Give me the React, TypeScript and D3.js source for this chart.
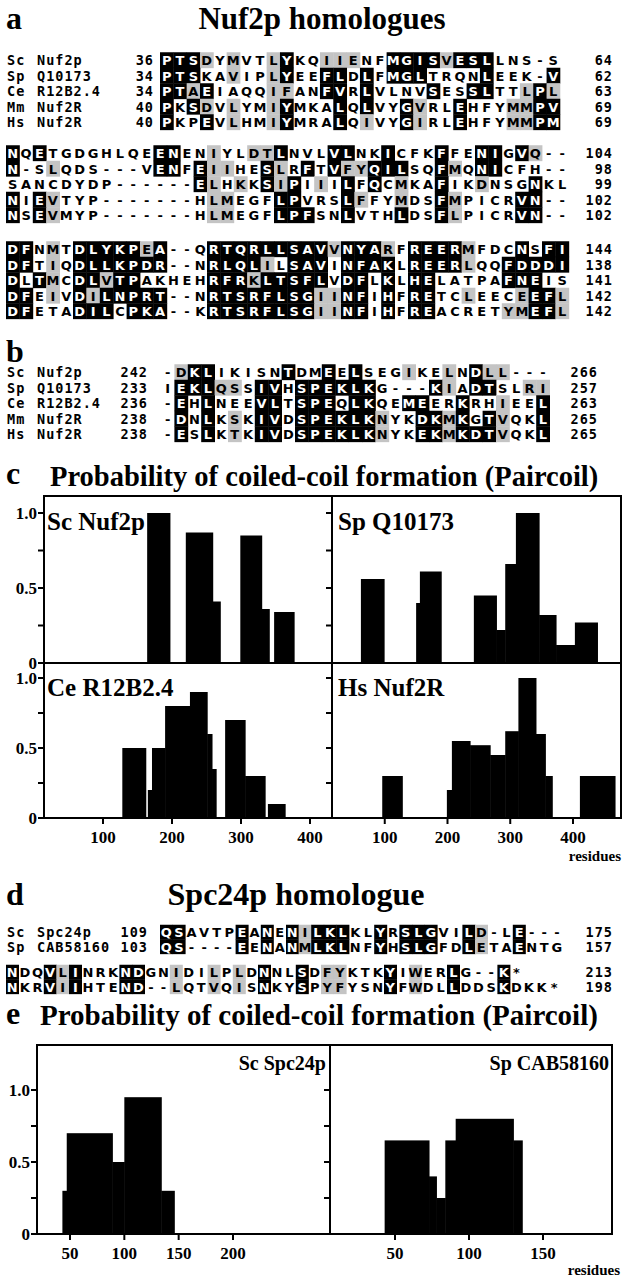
import React from 'react';
import * as d3 from 'd3';

const SERIF = '"Liberation Serif", "Times New Roman", serif';
const SANS = '"DejaVu Sans", Arial, sans-serif';
const MONO = '"DejaVu Sans Mono", monospace';
const GRAY = '#c4c4c4';

// ---- a: Nuf2p homologues alignment ----
const nufSpecies = [['Sc', 'Nuf2p'], ['Sp', 'Q10173'], ['Ce', 'R12B2.4'], ['Mm', 'Nuf2R'], ['Hs', 'Nuf2R']];
const nufStart1 = [36, 34, 34, 40, 40];
const nufEnd1 = [64, 62, 63, 69, 69];
const nufSeq1 = [
  'PTSDYMVTLYKQIIENFMGISVESLLNS-S',
  'PTSKAVIPLYEEFLDLFMGLTRQNLEEK-V',
  'PTAEIAQQIFANFVRLVLNVSESSLTTLPL',
  'PKSDVLYMIYMKALQLVYGVRLEHFYMMPV',
  'PKPEVLHMIYMRALQIVYGIRLEHFYMMPM',
];
const nufBlack1 = [
  [0, 1, 2, 9, 17, 18, 19, 20, 22, 23, 24],
  [0, 1, 2, 9, 12, 13, 15, 17, 18, 19, 24, 29],
  [0, 1, 3, 12, 13, 15, 20, 23, 24, 28],
  [0, 2, 9, 13, 15, 18, 22, 28, 29],
  [0, 3, 9, 13, 18, 22, 28, 29],
];
const nufGray1 = [
  [3, 5, 8, 12, 13, 14, 21],
  [5, 8],
  [2, 8, 9, 27, 29],
  [3, 5, 8, 19, 26, 27],
  [5, 8, 15, 19, 26, 27],
];

const nufEnd2 = [104, 98, 99, 102, 102];
const nufSeq2 = [
  'NQETGDGHLQEENENIYLDTLNVLVLNKICFKFFENIGVQ--',
  'N-SLQDS---VENFEIIHESLRFTVFYQILSQFMQNICFH--',
  'SANCDYDP------ELHKKSIPIIILFQCMKAFIKDNSGNKL',
  'NIEVTYP-------HLMEGFLPVRSLFFYMDSFMPICRVN--',
  'NSEVMYP-------HLMEGFLPFSNLVTHLDSFLPICRVN--',
];
const nufBlack2 = [
  [0, 2, 11, 12, 20, 24, 25, 28, 32, 35, 36, 38],
  [0, 11, 12, 14, 19, 22, 24, 27, 28, 29, 32, 35, 36],
  [14, 19, 21, 25, 27, 32, 39],
  [0, 2, 20, 21, 25, 32, 38, 39],
  [0, 2, 20, 21, 22, 25, 29, 32, 38, 39],
];
const nufGray2 = [
  [15, 18, 19, 39],
  [3, 15, 16, 20, 25, 26, 33],
  [15, 17, 20, 23, 29, 35],
  [3, 15, 16, 26, 29, 33],
  [3, 15, 16, 33],
];

const nufEnd3 = [144, 138, 141, 142, 142];
const nufSeq3 = [
  'DFNMTDLYKPEA--QRTQRLLSAVVNYARFREERMFDCNSFI',
  'DFTIQDLLKPDR--NRLQLILSAVINFAKLREERLQQFDDDI',
  'DLTMCDLVTPAKHEHRFRKLTSFLVDFLKLHELATPAFNEIS',
  'DFEIVDILNPRT--NRTSRFLSGIINFIHFRETCLEECEEFL',
  'DFETADILCPKA--KRTSRFLSGIINFIHFREACRETYMEFL',
];
const nufBlack3 = [
  [0, 1, 5, 6, 7, 8, 9, 11, 15, 16, 17, 18, 19, 20, 21, 22, 23, 25, 26, 27, 30, 31, 32, 33, 38, 40, 41],
  [0, 1, 5, 6, 7, 8, 9, 10, 11, 15, 16, 17, 18, 21, 22, 23, 25, 26, 27, 28, 30, 31, 32, 33, 37, 38, 39, 40, 41],
  [0, 2, 5, 6, 8, 9, 15, 16, 17, 19, 20, 21, 22, 23, 25, 26, 28, 30, 31, 37, 38, 39],
  [0, 1, 5, 7, 8, 9, 10, 11, 15, 16, 17, 18, 19, 20, 21, 22, 25, 26, 28, 30, 31, 39, 40],
  [0, 1, 5, 6, 7, 9, 10, 11, 15, 16, 17, 18, 19, 20, 21, 22, 25, 26, 28, 30, 31, 39, 40],
];
const nufGray3 = [
  [3, 10, 24, 28, 34],
  [3, 19, 34],
  [3, 7, 18],
  [3, 6, 23, 24, 34, 38, 41],
  [23, 24, 37, 38, 41],
];

// ---- b ----
const nufStartB = [242, 233, 236, 238, 238];
const nufEndB = [266, 257, 263, 265, 265];
const nufSeqB = [
  '-DKLIKISNTDMEELSEGIKELNDLL---',
  'IEKLQSSIVHSPEKLKG---KIADTSLRI',
  '-EHLNEEVLTSPEQLKQEMEERKRHIEEL',
  '-DNLKSKIVDSPEKLKNYKDKMKGTVQKL',
  '-ESLKTKIVDSPEKLKNYKEKMKDTVQKL',
];
const nufBlackB = [
  [2, 3, 9, 12, 14, 23],
  [1, 2, 3, 7, 8, 10, 11, 12, 13, 14, 15, 20, 23, 24],
  [1, 3, 7, 8, 10, 11, 12, 14, 15, 18, 19, 22, 28],
  [1, 3, 7, 8, 10, 11, 12, 13, 14, 15, 19, 20, 22, 24, 28],
  [1, 3, 7, 8, 10, 11, 12, 13, 14, 15, 19, 20, 22, 23, 24, 28],
];
const nufGrayB = [
  [1, 18, 21, 24, 25],
  [4, 5, 21, 27, 28],
  [25],
  [5, 16, 21, 25],
  [5, 16, 21, 25],
];

// ---- d: Spc24p homologue ----
const spcSpecies = [['Sc', 'Spc24p'], ['Sp', 'CAB58160']];
const spcStart = [109, 103];
const spcEnd1 = [175, 157];
const spcSeq1 = ['QSAVTPEANENILKLKLYRSLGVILD-LE---', 'QS----EENANMLKLNFYHSLGFDLETAENTG'];
const spcBlack1 = [
  [0, 1, 6, 8, 10, 12, 13, 14, 17, 19, 20, 21, 24, 28],
  [0, 1, 6, 8, 10, 12, 13, 14, 17, 19, 20, 21, 24, 28],
];
const spcGray1 = [[11, 25], [11, 25]];
const spcEnd2 = [213, 198];
const spcSeq2 = ['NDQVLINRKNDGNIDILPLDNNLSDFYKTKYIWERLG--K*', 'NKRVIIHTEND--LQTVQISNKYSPYFYSNYFWDLLDDSKDKK*'];
const spcBlack2 = [
  [0, 3, 5, 9, 10, 20, 23, 30, 35, 39],
  [0, 3, 5, 9, 10, 20, 23, 30, 35, 39],
];
const spcGray2 = [
  [4, 13, 16, 18, 25, 26, 32],
  [4, 13, 16, 18, 25, 26, 32],
];

// ---- c: Paircoil profiles, [start residue, end residue, probability] ----
const probTicks = [0, 0.5, 1];
const probMinor = [0.25, 0.75];
const nufResTicks = [100, 200, 300, 400];
const scNuf2pBars = [[164, 197, 1.0], [220, 259, 0.87], [259, 270, 0.41], [299, 330, 0.85], [330, 341, 0.36], [348, 377, 0.34]];
const spQ10173Bars = [[62, 99, 0.56], [150, 156, 0.4], [156, 190, 0.61], [242, 278, 0.45], [278, 292, 0.22], [292, 309, 0.66], [309, 346, 1.0], [346, 373, 0.32], [373, 403, 0.12], [403, 439, 0.27]];
const ceR12B24Bars = [[128, 162, 0.5], [165, 171, 0.2], [171, 190, 0.5], [190, 226, 0.8], [226, 251, 0.9], [251, 258, 0.6], [258, 264, 0.35], [277, 306, 0.7], [306, 335, 0.3], [339, 364, 0.1]];
const hsNuf2RBars = [[96, 128, 0.3], [199, 207, 0.2], [207, 236, 0.55], [236, 268, 0.52], [268, 292, 0.45], [292, 313, 0.62], [313, 341, 1.0], [341, 356, 0.6], [356, 367, 0.3], [411, 467, 0.3]];

// ---- e ----
const spcResTicksLeft = [50, 100, 150, 200];
const spcResTicksRight = [50, 100, 150];
const scSpc24pBars = [[43, 47, 0.3], [47, 89, 0.7], [89, 100, 0.5], [100, 134, 0.95], [134, 146, 0.3]];
const spCAB58160Bars = [[43, 73, 0.65], [73, 78, 0.4], [78, 84, 0.25], [84, 91, 0.65], [91, 130, 0.8], [130, 136, 0.65]];

function SeqBlock({ seqs, blacks, grays, x0, pitch, y0, dy, names, starts, startX, ends, endX }: any) {
  const col = d3.scaleLinear().domain([0, 1]).range([x0, x0 + pitch]);
  const row = d3.scaleLinear().domain([0, 1]).range([y0, y0 + dy]);
  return (
    <g>
      {seqs.map((s: string, i: number) => {
        const cy = row(i);
        return (
          <g key={i}>
            {names && (
              <g fontFamily={MONO} fontWeight="bold" fontSize={13.5} letterSpacing={1}>
                <text x={7} y={cy + 5}>{names[i][0]}</text>
                <text x={37} y={cy + 5}>{names[i][1]}</text>
              </g>
            )}
            {starts && (
              <text x={startX} y={cy + 5} textAnchor="end" fontFamily={MONO} fontWeight="bold" fontSize={13.5} letterSpacing={1}>
                {starts[i]}
              </text>
            )}
            {s.split('').map((ch, j) => {
              const kind = blacks[i].includes(j) ? 'b' : grays[i].includes(j) ? 'g' : '';
              return (
                <g key={j}>
                  {kind && (
                    <rect x={col(j)} y={cy - dy / 2} width={pitch + 0.4} height={dy + 0.4} fill={kind === 'b' ? '#000' : GRAY} />
                  )}
                  <text x={col(j) + pitch / 2} y={cy + 5} textAnchor="middle" fontFamily={SANS} fontWeight="bold" fontSize={13}
                    fill={kind === 'b' ? '#fff' : '#000'}>{ch}</text>
                </g>
              );
            })}
            <text x={endX} y={cy + 5} textAnchor="end" fontFamily={MONO} fontWeight="bold" fontSize={13.5} letterSpacing={1}>
              {ends[i]}
            </text>
          </g>
        );
      })}
    </g>
  );
}

function Bars({ data, xs, ys }: any) {
  return (
    <g>
      {data.map((b: number[], i: number) => (
        <rect key={i} x={xs(b[0])} y={ys(b[2])} width={xs(b[1]) - xs(b[0]) + 0.5} height={ys(0) - ys(b[2])} fill="#000" />
      ))}
    </g>
  );
}

function YAxis({ ys, x, labels }: any) {
  return (
    <g>
      {[...probTicks, ...probMinor].map((t) => (
        <line key={t} x1={x - 6} x2={x} y1={ys(t)} y2={ys(t)} stroke="#000" strokeWidth={2} />
      ))}
      {labels &&
        probTicks.map((t) => (
          <text key={t} x={x - 7} y={ys(t) + 6} textAnchor="end" fontFamily={SERIF} fontWeight="bold" fontSize={17}>
            {t === 0 ? '0' : t.toFixed(1)}
          </text>
        ))}
    </g>
  );
}

function XAxis({ xs, ticks, y }: any) {
  return (
    <g>
      {ticks.map((t: number) => (
        <g key={t}>
          <line x1={xs(t)} x2={xs(t)} y1={y} y2={y + 6} stroke="#000" strokeWidth={2} />
          <text x={xs(t)} y={y + 25} textAnchor="middle" fontFamily={SERIF} fontWeight="bold" fontSize={17}>{t}</text>
        </g>
      ))}
    </g>
  );
}

function PanelLabel({ x, y, text, size = 25, anchor = 'start' }: any) {
  return <text x={x} y={y} textAnchor={anchor} fontFamily={SERIF} fontWeight="bold" fontSize={size}>{text}</text>;
}

export default function App() {
  // chart c geometry
  const cL = 44, cM = 332, cR = 621, cTop = 496, cMid = 663, cBot = 818;
  const yUp = d3.scaleLinear().domain([0, 1]).range([cMid, 513]);
  const yLo = d3.scaleLinear().domain([0, 1]).range([cBot, 678]);
  const xCL = d3.scaleLinear().domain([0, 400]).range([34, 310]);
  const xCR = d3.scaleLinear().domain([0, 400]).range([322, 573]);

  // chart e geometry
  const eL = 37, eM = 330, eR = 612, eTop = 1045, eBot = 1234;
  const yE = d3.scaleLinear().domain([0, 1]).range([eBot, 1090]);
  const xEL = d3.scaleLinear().domain([50, 200]).range([70, 233]);
  const xER = d3.scaleLinear().domain([50, 150]).range([395, 543]);

  const heading = { fontFamily: SERIF, fontWeight: 'bold' } as any;

  return (
    <div style={{ position: 'absolute', left: 0, top: 0 }}>
      <svg width={624} height={1280} style={{ display: 'block', background: '#fff' }}>
        <rect width={624} height={1280} fill="#fff" />

        {/* a */}
        <text x={6} y={29} {...heading} fontSize={32}>a</text>
        <text x={322} y={29} {...heading} fontSize={31} textAnchor="middle">Nuf2p homologues</text>
        <SeqBlock seqs={nufSeq1} blacks={nufBlack1} grays={nufGray1} x0={160} pitch={13.33} y0={60} dy={15.5}
          names={nufSpecies} starts={nufStart1} startX={154} ends={nufEnd1} endX={613} />
        <SeqBlock seqs={nufSeq2} blacks={nufBlack2} grays={nufGray2} x0={6} pitch={13.4} y0={153} dy={15.5}
          ends={nufEnd2} endX={613} />
        <SeqBlock seqs={nufSeq3} blacks={nufBlack3} grays={nufGray3} x0={6} pitch={13.4} y0={249} dy={15.5}
          ends={nufEnd3} endX={613} />

        {/* b */}
        <text x={6} y={362} {...heading} fontSize={32}>b</text>
        <SeqBlock seqs={nufSeqB} blacks={nufBlackB} grays={nufGrayB} x0={161} pitch={13.4} y0={372} dy={15.5}
          names={nufSpecies} starts={nufStartB} startX={148} ends={nufEndB} endX={598} />

        {/* c */}
        <text x={6} y={484} {...heading} fontSize={32}>c</text>
        <text x={50} y={486} {...heading} fontSize={28.5}>Probability of coiled-coil formation (Paircoil)</text>
        <Bars data={scNuf2pBars} xs={xCL} ys={yUp} />
        <Bars data={spQ10173Bars} xs={xCR} ys={yUp} />
        <Bars data={ceR12B24Bars} xs={xCL} ys={yLo} />
        <Bars data={hsNuf2RBars} xs={xCR} ys={yLo} />
        <rect x={cL} y={cTop} width={cR - cL} height={cBot - cTop} fill="none" stroke="#000" strokeWidth={2} />
        <line x1={cM} x2={cM} y1={cTop} y2={cBot} stroke="#000" strokeWidth={2} />
        <line x1={cL} x2={cR} y1={cMid} y2={cMid} stroke="#000" strokeWidth={2} />
        <YAxis ys={yUp} x={cL} labels />
        <YAxis ys={yLo} x={cL} labels />
        <YAxis ys={yUp} x={cM} />
        <YAxis ys={yLo} x={cM} />
        <XAxis xs={xCL} ticks={nufResTicks} y={cBot} />
        <XAxis xs={xCR} ticks={nufResTicks} y={cBot} />
        <text x={cR} y={861} textAnchor="end" {...heading} fontSize={15}>residues</text>
        <PanelLabel x={47} y={530} text="Sc Nuf2p" />
        <PanelLabel x={338} y={530} text="Sp Q10173" />
        <PanelLabel x={47} y={696} text="Ce R12B2.4" />
        <PanelLabel x={338} y={696} text="Hs Nuf2R" />

        {/* d */}
        <text x={6} y={905} {...heading} fontSize={32}>d</text>
        <text x={296} y={905} {...heading} fontSize={32} textAnchor="middle">Spc24p homologue</text>
        <SeqBlock seqs={spcSeq1} blacks={spcBlack1} grays={spcGray1} x0={160} pitch={12.6} y0={932} dy={14.5}
          names={spcSpecies} starts={spcStart} startX={148} ends={spcEnd1} endX={613} />
        <SeqBlock seqs={spcSeq2} blacks={spcBlack2} grays={spcGray2} x0={6} pitch={12.6} y0={972} dy={14.5}
          ends={spcEnd2} endX={613} />

        {/* e */}
        <text x={6} y={1024} {...heading} fontSize={32}>e</text>
        <text x={40} y={1025} {...heading} fontSize={29}>Probability of coiled-coil formation (Paircoil)</text>
        <Bars data={scSpc24pBars} xs={xEL} ys={yE} />
        <Bars data={spCAB58160Bars} xs={xER} ys={yE} />
        <rect x={eL} y={eTop} width={eR - eL} height={eBot - eTop} fill="none" stroke="#000" strokeWidth={2} />
        <line x1={eM} x2={eM} y1={eTop} y2={eBot} stroke="#000" strokeWidth={2} />
        <YAxis ys={yE} x={eL} labels />
        <YAxis ys={yE} x={eM} />
        <XAxis xs={xEL} ticks={spcResTicksLeft} y={eBot} />
        <XAxis xs={xER} ticks={spcResTicksRight} y={eBot} />
        <text x={620} y={1275} textAnchor="end" {...heading} fontSize={15}>residues</text>
        <PanelLabel x={326} y={1070} text="Sc Spc24p" size={20} anchor="end" />
        <PanelLabel x={609} y={1070} text="Sp CAB58160" size={20} anchor="end" />
      </svg>
    </div>
  );
}
